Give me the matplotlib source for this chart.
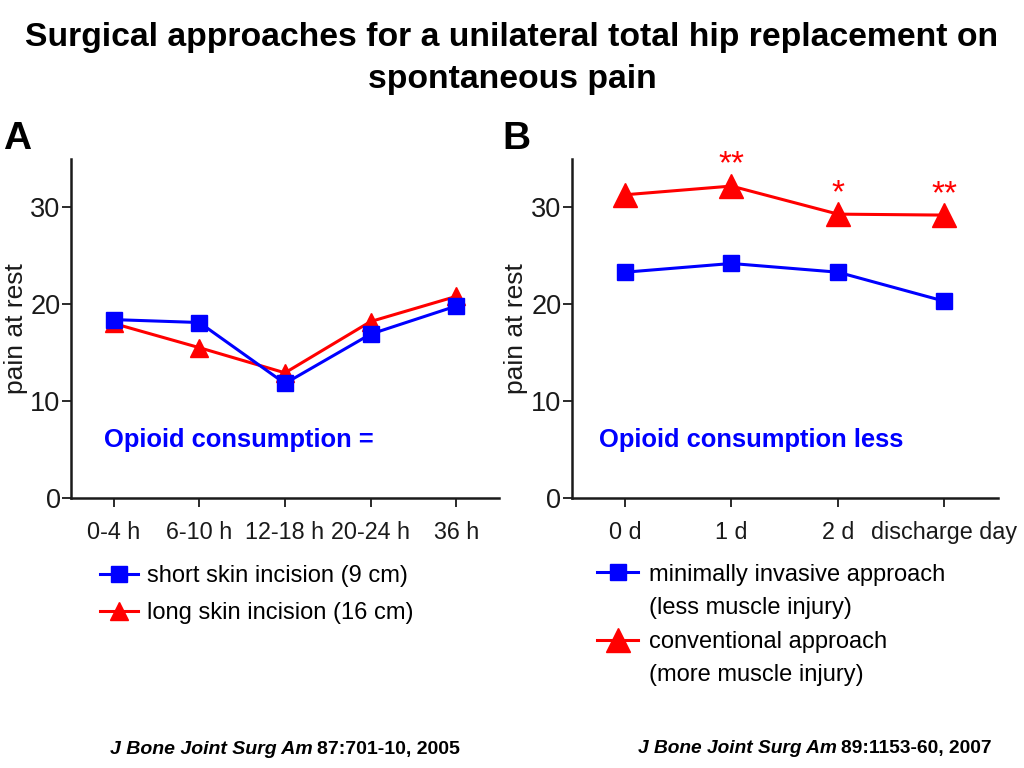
import matplotlib.pyplot as plt
from matplotlib.lines import Line2D

plt.rcParams['font.family'] = ['Liberation Sans', 'DejaVu Sans']

# panel A: skin incision length
times_a = ['0-4 h', '6-10 h', '12-18 h', '20-24 h', '36 h']
short_incision = [18.4, 18.1, 11.8, 16.9, 19.8]
long_incision = [18.0, 15.5, 12.9, 18.2, 20.8]

# panel B: surgical approach
times_b = ['0 d', '1 d', '2 d', 'discharge day']
minimally_invasive = [23.3, 24.2, 23.3, 20.3]
conventional = [31.3, 32.2, 29.3, 29.2]
signif_b = ['', '**', '*', '**']

blue = '#0000ff'
red = '#ff0000'
axcol = '#1a1a1a'

fig = plt.figure(figsize=(10.24, 7.68), dpi=100)

fig.text(0.5, 0.951, 'Surgical approaches for a unilateral total hip replacement on',
         ha='center', va='center', fontsize=24.3, fontweight='bold')
fig.text(0.5, 0.897, 'spontaneous pain',
         ha='center', va='center', fontsize=24.3, fontweight='bold')


def style_axis(ax):
    for s in ['top', 'right']:
        ax.spines[s].set_visible(False)
    for s in ['left', 'bottom']:
        ax.spines[s].set_color(axcol)
        ax.spines[s].set_linewidth(1.8)
    ax.set_ylim(0, 35)
    ax.set_yticks([0, 10, 20, 30])
    ax.tick_params(axis='both', direction='out', length=6.5, width=1.3,
                   color=axcol, labelcolor=axcol)
    ax.tick_params(axis='y', labelsize=19.5, pad=1)
    ax.tick_params(axis='x', labelsize=16.8, pad=10)
    ax.set_ylabel('pain at rest', fontsize=19, labelpad=2, color=axcol)


axA = fig.add_axes([0.0693, 0.352, 0.418, 0.441])
xa = range(len(times_a))
axA.plot(xa, long_incision, color=red, lw=2.2, marker='^', ms=13,
         zorder=3)
axA.plot(xa, short_incision, color=blue, lw=2.2, marker='s', ms=12,
         zorder=4)
axA.set_xlim(-0.5, 4.5)
axA.set_xticks(list(xa))
axA.set_xticklabels(times_a)
style_axis(axA)
axA.text(0.077, 0.170, 'Opioid consumption =', transform=axA.transAxes,
         color=blue, fontsize=18.4, fontweight='bold', va='center')

axB = fig.add_axes([0.5583, 0.352, 0.416, 0.441])
xb = range(len(times_b))
axB.plot(xb, conventional, color=red, lw=2.2, marker='^', ms=17, zorder=3)
axB.plot(xb, minimally_invasive, color=blue, lw=2.2, marker='s', ms=12,
         zorder=4)
for i, s in enumerate(signif_b):
    if s:
        axB.annotate(s, (i, conventional[i]), xytext=(0, 15),
                     textcoords='offset points', ha='center', va='center',
                     color=red, fontsize=24)
axB.set_xlim(-0.5, 3.5)
axB.set_xticks(list(xb))
axB.set_xticklabels(times_b)
style_axis(axB)
axB.text(0.064, 0.170, 'Opioid consumption less', transform=axB.transAxes,
         color=blue, fontsize=18.4, fontweight='bold', va='center')

# legends
blank = Line2D([], [], linestyle='none')
h_short = Line2D([], [], color=blue, lw=2.2, marker='s', ms=12)
h_long = Line2D([], [], color=red, lw=2.2, marker='^', ms=13)
fig.legend([h_short, h_long],
           ['short skin incision (9 cm)', 'long skin incision (16 cm)'],
           loc='upper left', bbox_to_anchor=(0.0977, 0.2645),
           bbox_transform=fig.transFigure, frameon=False, fontsize=17,
           handlelength=1.6, handletextpad=0.38, labelspacing=0.66,
           borderpad=0, borderaxespad=0)

h_min = Line2D([], [], color=blue, lw=2.2, marker='s', ms=12)
h_conv = Line2D([], [], color=red, lw=2.2, marker='^', ms=17)
fig.legend([h_min, blank, h_conv, blank],
           ['minimally invasive approach', '(less muscle injury)',
            'conventional approach', '(more muscle injury)'],
           loc='upper left', bbox_to_anchor=(0.583, 0.266),
           bbox_transform=fig.transFigure, frameon=False, fontsize=17,
           handlelength=1.74, handletextpad=0.47, labelspacing=0.49,
           borderpad=0, borderaxespad=0)

# journal references
ref1 = fig.text(0.1074, 0.0247, 'J Bone Joint Surg Am', fontsize=14,
                fontweight='bold', style='italic', va='center')
axA.annotate('87:701-10, 2005', xy=(1, 0), xycoords=ref1, xytext=(3, 0),
             textcoords='offset points', va='bottom', fontsize=14,
             fontweight='bold')
ref2 = fig.text(0.623, 0.026, 'J Bone Joint Surg Am', fontsize=13.8,
                fontweight='bold', style='italic', va='center')
axB.annotate('89:1153-60, 2007', xy=(1, 0), xycoords=ref2, xytext=(3, 0),
             textcoords='offset points', va='bottom', fontsize=13.8,
             fontweight='bold')

fig.text(0.003, 0.819, 'A', fontsize=28, fontweight='bold', va='center')
fig.text(0.491, 0.819, 'B', fontsize=28, fontweight='bold', va='center')

fig.savefig('out.png', dpi=100)
